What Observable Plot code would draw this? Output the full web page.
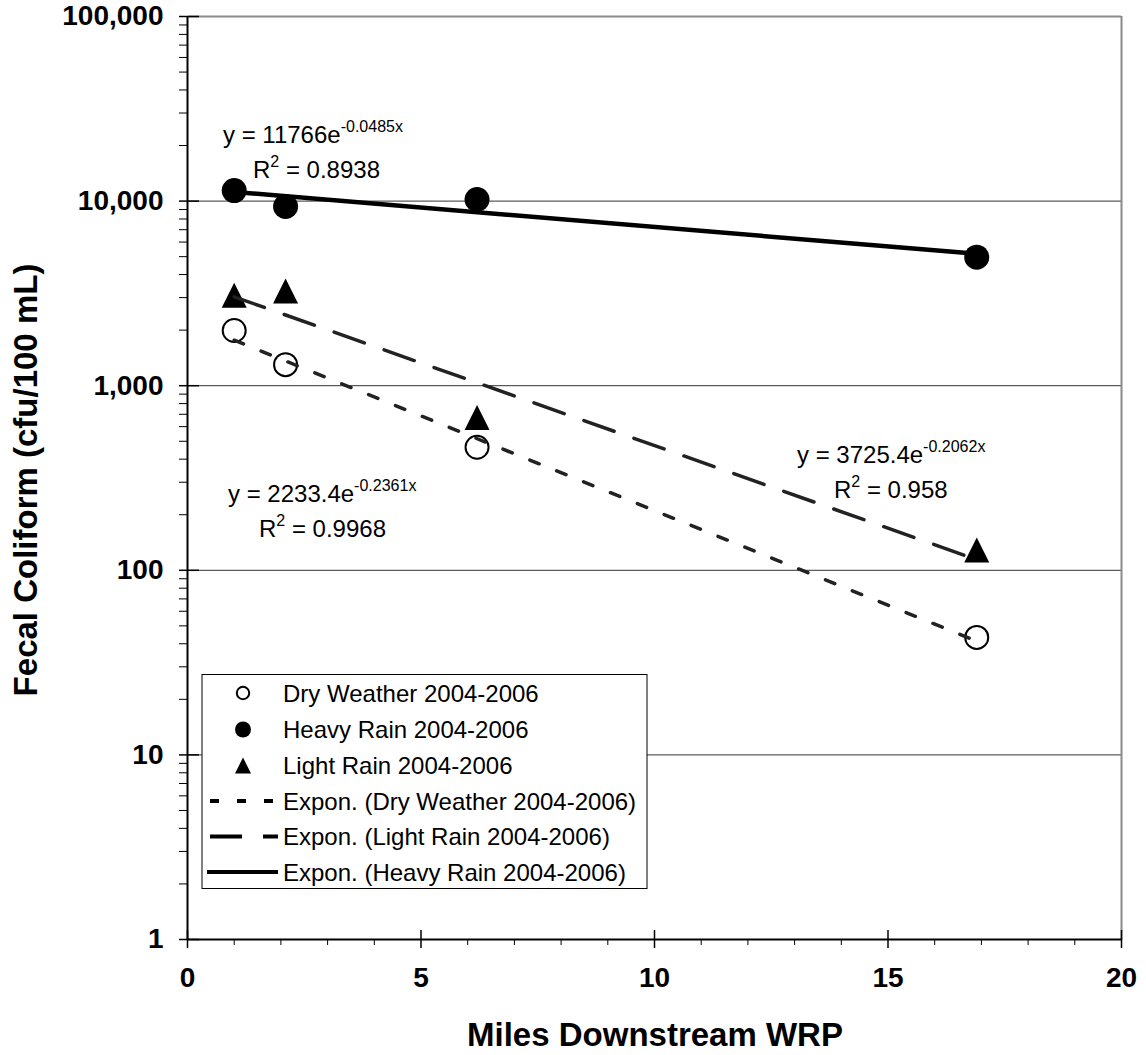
<!DOCTYPE html>
<html>
<head>
<meta charset="utf-8">
<script src="https://cdn.jsdelivr.net/npm/d3@7"></script>
<script src="https://cdn.jsdelivr.net/npm/@observablehq/plot@0.6"></script>
<style>
  body { margin: 0; background: #fff; }
  #chart { width: 1146px; height: 1055px; }
</style>
</head>
<body>
<div id="chart"></div>
<script>
// Station distances below the water reclamation plant (miles)
const miles = [1.0, 2.1, 6.2, 16.9];

// Geometric-mean fecal coliform per station (cfu/100 mL)
const dryWeather = [1990, 1300, 464, 43.3];
const heavyRain  = [11400, 9350, 10200, 4970];
const lightRain  = [3090, 3260, 673, 129];

const seriesNames = ["Dry Weather 2004-2006", "Heavy Rain 2004-2006", "Light Rain 2004-2006"];

// Exponential trend fits y = a·e^(b·x), in legend order
const fitNames = ["Dry Weather 2004-2006", "Light Rain 2004-2006", "Heavy Rain 2004-2006"];
const fitA  = [2233.4, 3725.4, 11766];
const fitB  = [-0.2361, -0.2062, -0.0485];
const fitR2 = [0.9968, 0.958, 0.8938];

// Axis ticks
const yMajor = [1, 10, 100, 1000, 10000, 100000];
const yGrid  = [10, 100, 1000, 10000];
const yMinorSteps = [2, 3, 4, 5, 6, 7, 8, 9];
const xMajor = [0, 5, 10, 15, 20];
const xMinor = [1, 2, 3, 4, 6, 7, 8, 9, 11, 12, 13, 14, 16, 17, 18, 19];

const yMinor = yMajor.slice(0, -1).flatMap(d => yMinorSteps.map(s => d * s));

const toRows = vals => miles.map((m, i) => ({x: m, y: vals[i]}));
const dryRows = toRows(dryWeather);
const heavyRows = toRows(heavyRain);
const lightRows = toRows(lightRain);

// Trend line endpoints over the sampled reach, from the fitted coefficients
const trend = k => [miles[0], miles[miles.length - 1]].map(x => ({x, y: fitA[k] * Math.exp(fitB[k] * x)}));

// Isoceles triangle marker centred on its bounding box
const triangle = {
  draw(ctx, size) {
    const r = Math.sqrt(size / Math.PI);
    ctx.moveTo(0, -r);
    ctx.lineTo(r, r);
    ctx.lineTo(-r, r);
    ctx.closePath();
  }
};

const FONT = "'Liberation Sans', Arial, Helvetica, sans-serif";
const INK = "#000";

const chart = Plot.plot({
  width: 1146,
  height: 1055,
  marginLeft: 187,
  marginRight: 25,
  marginTop: 16,
  marginBottom: 116,
  style: {fontFamily: FONT, background: "#fff", color: INK, overflow: "visible"},
  x: {domain: [0, 20]},
  y: {type: "log", domain: [1, 100000]},
  marks: [
    // gridlines and plot-area border
    Plot.ruleY(yGrid, {stroke: "#333", strokeWidth: 1}),
    Plot.ruleY([100000], {stroke: "#8a8a8a", strokeWidth: 2}),
    Plot.ruleX([20], {stroke: "#8a8a8a", strokeWidth: 2}),

    // observations
    Plot.dot(heavyRows, {x: "x", y: "y", r: 12.5, fill: INK, stroke: "none"}),
    Plot.dot(lightRows, {x: "x", y: "y", r: 12.5, symbol: triangle, fill: INK, stroke: "none"}),
    Plot.dot(dryRows, {x: "x", y: "y", r: 11.5, fill: "#fff", stroke: INK, strokeWidth: 2}),

    // exponential trend lines
    Plot.line(trend(0), {x: "x", y: "y", stroke: "#222", strokeWidth: 3.5, strokeDasharray: "10,19"}),
    Plot.line(trend(1), {x: "x", y: "y", stroke: "#222", strokeWidth: 3.5, strokeDasharray: "32,21"}),
    Plot.line(trend(2), {x: "x", y: "y", stroke: INK, strokeWidth: 4.5}),

    // axes
    Plot.axisY(yMinor, {anchor: "left", tickSize: 8, fill: "none", strokeWidth: 1}),
    Plot.axisY(yMajor, {anchor: "right", frameAnchor: "left", tickSize: 11, fill: "none", strokeWidth: 1.5}),
    Plot.axisY(yMajor, {anchor: "left", tickSize: 8, tickPadding: 16, tickFormat: d3.format(","),
      fontSize: 28, fontWeight: "bold", label: null, strokeWidth: 1.5}),
    Plot.axisX(xMinor, {anchor: "bottom", tickSize: 6, fill: "none", strokeWidth: 1}),
    Plot.axisX(xMajor, {anchor: "top", frameAnchor: "bottom", tickSize: 10, fill: "none", strokeWidth: 1.5}),
    Plot.axisX(xMajor, {anchor: "bottom", tickSize: 9, tickPadding: 19, tickFormat: d3.format("d"),
      fontSize: 28, fontWeight: "bold", label: null, strokeWidth: 1.5}),
    Plot.ruleX([0], {stroke: INK, strokeWidth: 2}),
    Plot.ruleY([1], {stroke: INK, strokeWidth: 2})
  ]
});

document.getElementById("chart").append(chart);

const svg = d3.select(chart);

// axis titles
svg.append("text")
  .attr("x", 655).attr("y", 1046)
  .attr("text-anchor", "middle")
  .style("font", `bold 33px ${FONT}`)
  .text("Miles Downstream WRP");

svg.append("text")
  .attr("transform", "translate(37,480) rotate(-90)")
  .attr("text-anchor", "middle")
  .style("font", `bold 33px ${FONT}`)
  .text("Fecal Coliform (cfu/100 mL)");

// trend equations and R² labels (placed beside each fitted line)
const eqPlacement = [
  {eq: [228, 502], r2: [259, 537]},
  {eq: [797, 463], r2: [834, 498]},
  {eq: [223, 143], r2: [253, 178]}
];
fitA.forEach((a, k) => {
  const p = eqPlacement[k];
  const eq = svg.append("text")
    .attr("x", p.eq[0]).attr("y", p.eq[1])
    .attr("text-anchor", "start")
    .style("font", `24px ${FONT}`);
  eq.append("tspan").text(`y = ${a}e`);
  eq.append("tspan").attr("dy", -11).style("font-size", "16px").text(`${fitB[k]}x`);

  const r2 = svg.append("text")
    .attr("x", p.r2[0]).attr("y", p.r2[1])
    .attr("text-anchor", "start")
    .style("font", `24px ${FONT}`);
  r2.append("tspan").text("R");
  r2.append("tspan").attr("dy", -11).style("font-size", "16px").text("2");
  r2.append("tspan").attr("dy", 11).text(` = ${fitR2[k]}`);
});

// legend
const lg = svg.append("g").attr("class", "legend").attr("text-anchor", "start");
lg.append("rect")
  .attr("x", 202).attr("y", 674.5).attr("width", 445).attr("height", 214)
  .attr("fill", "#fff").attr("stroke", "#000").attr("stroke-width", 1);

const rowY = [693, 729.5, 765.5, 801, 836.5, 872];
const textX = 283;
const symX = 243;

// marker entries
lg.append("circle").attr("cx", symX).attr("cy", rowY[0]).attr("r", 6.2)
  .attr("fill", "#fff").attr("stroke", "#000").attr("stroke-width", 2);
lg.append("circle").attr("cx", symX).attr("cy", rowY[1]).attr("r", 8).attr("fill", "#000");
lg.append("path").attr("transform", `translate(${symX},${rowY[2]})`)
  .attr("d", d3.symbol(triangle, Math.PI * 8 * 8)()).attr("fill", "#000");

// trend line entries
const sampleDash = ["9,18", "32,21", null];
fitNames.forEach((n, k) => {
  const y = rowY[3 + k];
  const l = lg.append("line")
    .attr("x1", k === 2 ? 207 : 210).attr("x2", 278)
    .attr("y1", y).attr("y2", y)
    .attr("stroke", "#000").attr("stroke-width", 4);
  if (sampleDash[k]) l.attr("stroke-dasharray", sampleDash[k]);
});

const legendLabels = seriesNames.concat(fitNames.map(n => `Expon. (${n})`));
legendLabels.forEach((t, i) => {
  lg.append("text")
    .attr("x", textX).attr("y", rowY[i]).attr("dy", "0.36em")
    .attr("text-anchor", "start")
    .style("font", `24px ${FONT}`)
    .text(t);
});
</script>
</body>
</html>
